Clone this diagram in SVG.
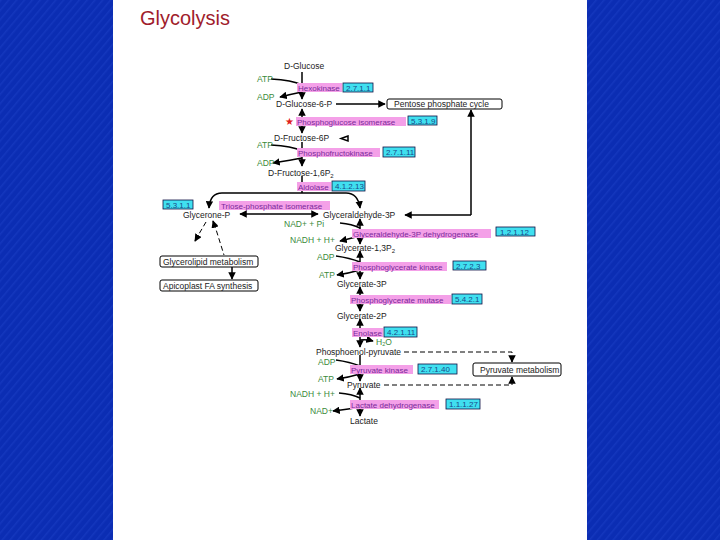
<svg xmlns="http://www.w3.org/2000/svg" width="720" height="540" viewBox="0 0 720 540">
<defs>
<pattern id="hatch" width="6" height="6" patternUnits="userSpaceOnUse" patternTransform="rotate(40)">
<rect width="6" height="6" fill="#0b2db3"/>
<rect width="1.5" height="6" fill="#1437bd"/>
</pattern>
<marker id="ah" viewBox="0 0 10 10" refX="9" refY="5" markerWidth="5" markerHeight="5" orient="auto-start-reverse">
<path d="M0,0 L10,5 L0,10 z" fill="#000"/>
</marker>
<style>
.t{font-family:"Liberation Sans",Arial,sans-serif;font-size:8.5px;fill:#222}
.g{font-family:"Liberation Sans",Arial,sans-serif;font-size:8.5px;fill:#3a8a3a}
.pt{font-family:"Liberation Sans",Arial,sans-serif;font-size:8px;fill:#7a2a9a}
.ct{font-family:"Liberation Sans",Arial,sans-serif;font-size:8px;fill:#1a4a8a}
.pk{fill:#f4a0e8}
.cy{fill:#40e0f0;stroke:#114;stroke-width:0.8}
.map{fill:#fff;stroke:#000;stroke-width:1}
.c{fill:none;stroke:#000;stroke-width:1.5}
.d{fill:none;stroke:#000;stroke-width:1;stroke-dasharray:5,3}
</style>
</defs>
<rect width="720" height="540" fill="url(#hatch)"/>
<rect x="113" y="0" width="474" height="540" fill="#fff"/>
<text x="140" y="25" font-family="Liberation Sans,Arial,sans-serif" font-size="20" fill="#a01c2c">Glycolysis</text>

<g id="connectors">
<path class="c" d="M302,72 V99" marker-end="url(#ah)"/>
<path class="c" d="M271,79 Q292,80 302,85"/>
<path class="c" d="M302,92 Q292,94 280,97" marker-end="url(#ah)"/>
<path class="c" d="M336,104 H385" marker-end="url(#ah)"/>
<path class="c" d="M302,109 V133" marker-start="url(#ah)" marker-end="url(#ah)"/>
<path class="c" d="M348,136 L341,138.5 L348,141 z" fill="#000"/>
<path class="c" d="M302,142 V166" marker-end="url(#ah)"/>
<path class="c" d="M271,145 Q292,146 302,151"/>
<path class="c" d="M302,158 Q292,160 273,163" marker-end="url(#ah)"/>
<path class="c" d="M302,176 V193"/>
<path class="c" d="M302,193 H222 Q210,193 209,208" marker-end="url(#ah)"/>
<path class="c" d="M302,193 H346 Q358,193 360,208" marker-end="url(#ah)"/>
<path class="c" d="M240,214 H318" marker-start="url(#ah)" marker-end="url(#ah)"/>
<path class="c" d="M471,215 V110" marker-end="url(#ah)"/>
<path class="c" d="M471,215 H405" marker-end="url(#ah)"/>
<path class="c" d="M360,219 V244" marker-start="url(#ah)" marker-end="url(#ah)"/>
<path class="c" d="M340,223 Q352,224 360,228"/>
<path class="c" d="M360,236 Q352,238 340,241" marker-end="url(#ah)"/>
<path class="c" d="M360,251 V279" marker-start="url(#ah)" marker-end="url(#ah)"/>
<path class="c" d="M336,256 Q350,258 360,262"/>
<path class="c" d="M360,270 Q350,273 337,275" marker-end="url(#ah)"/>
<path class="c" d="M360,287 V311" marker-start="url(#ah)" marker-end="url(#ah)"/>
<path class="c" d="M360,319 V347" marker-start="url(#ah)" marker-end="url(#ah)"/>
<path class="c" d="M360,340 Q366,339 373,341" marker-end="url(#ah)"/>
<path class="c" d="M360,355 V381" marker-end="url(#ah)"/>
<path class="c" d="M336,360 Q350,362 360,366"/>
<path class="c" d="M360,374 Q350,377 337,379" marker-end="url(#ah)"/>
<path class="c" d="M360,388 V416" marker-start="url(#ah)" marker-end="url(#ah)"/>
<path class="c" d="M339,393 Q352,394 360,398"/>
<path class="c" d="M360,407 Q350,409 333,411" marker-end="url(#ah)"/>
<path class="d" d="M404,352 H512 V361"/>
<path class="c" d="M512,356 V362" marker-end="url(#ah)"/>
<path class="d" d="M384,385 H512 V378"/>
<path class="c" d="M512,382 V377" marker-end="url(#ah)"/>
<path class="d" d="M206,222 L196,239"/>
<path class="c" d="M198,236 L195,241" marker-end="url(#ah)"/>
<path class="d" d="M214,223 L224,255"/>
<path class="c" d="M215,227 L213,221" marker-end="url(#ah)"/>
<path class="c" d="M232,267 V279" marker-end="url(#ah)"/>
</g>

<g id="glucose"><text class="t" x="284" y="69">D-Glucose</text></g>
<g id="atp1"><text class="g" x="257" y="82">ATP</text></g>
<g id="hexokinase"><rect class="pk" x="297" y="83" width="45" height="9"/><text class="pt" x="298" y="90.5">Hexokinase</text><rect class="cy" x="343" y="83" width="30" height="9"/><text class="ct" x="346" y="90.5">2.7.1.1</text></g>
<g id="adp1"><text class="g" x="257" y="100">ADP</text></g>
<g id="g6p"><text class="t" x="276" y="107">D-Glucose-6-P</text></g>
<g id="ppc"><rect class="map" x="387" y="99" width="115" height="10" rx="2"/><text class="t" x="394" y="106.5">Pentose phosphate cycle</text></g>
<g id="pgi"><text x="285" y="125" font-family="DejaVu Sans,sans-serif" font-size="10" fill="#e02020">★</text><rect class="pk" x="296" y="117" width="110" height="9"/><text class="pt" x="297" y="124.5">Phosphoglucose isomerase</text><rect class="cy" x="408" y="116" width="29" height="9"/><text class="ct" x="411" y="123.5">5.3.1.9</text></g>
<g id="f6p"><text class="t" x="274" y="141">D-Fructose-6P</text></g>
<g id="atp2"><text class="g" x="257" y="148">ATP</text></g>
<g id="pfk"><rect class="pk" x="297" y="148" width="83" height="9"/><text class="pt" x="298" y="155.5">Phosphofructokinase</text><rect class="cy" x="383" y="147" width="32" height="10"/><text class="ct" x="386" y="155">2.7.1.11</text></g>
<g id="adp2"><text class="g" x="257" y="166">ADP</text></g>
<g id="f16p2"><text class="t" x="268" y="176">D-Fructose-1,6P<tspan font-size="6" dy="2">2</tspan></text></g>
<g id="aldolase"><rect class="pk" x="297" y="182" width="34" height="9"/><text class="pt" x="298" y="189.5">Aldolase</text><rect class="cy" x="332" y="181" width="33" height="10"/><text class="ct" x="335" y="189">4.1.2.13</text></g>
<g id="tpi"><rect class="cy" x="163" y="200" width="30" height="9"/><text class="ct" x="166" y="207.5">5.3.1.1</text><rect class="pk" x="219" y="201" width="111" height="9"/><text class="pt" x="221" y="208.5">Triose-phosphate isomerase</text></g>
<g id="glyceroneP"><text class="t" x="183" y="218">Glycerone-P</text></g>
<g id="ga3p"><text class="t" x="323" y="218">Glyceraldehyde-3P</text></g>
<g id="nadpi"><text class="g" x="284" y="227">NAD+ + Pi</text></g>
<g id="gapdh"><rect class="pk" x="352" y="229" width="139" height="9"/><text class="pt" x="353" y="236.5">Glyceraldehyde-3P dehydrogenase</text><rect class="cy" x="496" y="227" width="39" height="9"/><text class="ct" x="500" y="234.5">1.2.1.12</text></g>
<g id="nadh1"><text class="g" x="290" y="243">NADH + H+</text></g>
<g id="g13p2"><text class="t" x="335" y="251">Glycerate-1,3P<tspan font-size="6" dy="2">2</tspan></text></g>
<g id="adp3"><text class="g" x="317" y="260">ADP</text></g>
<g id="pgk"><rect class="pk" x="352" y="262" width="95" height="9"/><text class="pt" x="353" y="269.5">Phosphoglycerate kinase</text><rect class="cy" x="453" y="261" width="33" height="9"/><text class="ct" x="456" y="268.5">2.7.2.3</text></g>
<g id="atp3"><text class="g" x="319" y="278">ATP</text></g>
<g id="g3p"><text class="t" x="337" y="287">Glycerate-3P</text></g>
<g id="pgm"><rect class="pk" x="350" y="295" width="101" height="9"/><text class="pt" x="351" y="302.5">Phosphoglycerate mutase</text><rect class="cy" x="452" y="294" width="30" height="10"/><text class="ct" x="455" y="302">5.4.2.1</text></g>
<g id="g2p"><text class="t" x="337" y="319">Glycerate-2P</text></g>
<g id="enolase"><rect class="pk" x="352" y="328" width="31" height="9"/><text class="pt" x="353" y="335.5">Enolase</text><rect class="cy" x="384" y="327" width="33" height="10"/><text class="ct" x="387" y="335">4.2.1.11</text></g>
<g id="h2o"><text class="g" x="376" y="344.5" font-size="8">H<tspan font-size="5.5" dy="1">2</tspan><tspan dy="-1">O</tspan></text></g>
<g id="pep"><text class="t" x="316" y="355">Phosphoenol-pyruvate</text></g>
<g id="adp4"><text class="g" x="318" y="365">ADP</text></g>
<g id="pk"><rect class="pk" x="350" y="365" width="63" height="9"/><text class="pt" x="351" y="372.5">Pyruvate kinase</text><rect class="cy" x="418" y="364" width="39" height="10"/><text class="ct" x="421" y="372">2.7.1.40</text></g>
<g id="pyrmet"><rect class="map" x="473" y="363" width="88" height="13" rx="2"/><text class="t" x="480" y="372.5">Pyruvate metabolism</text></g>
<g id="atp4"><text class="g" x="318" y="382">ATP</text></g>
<g id="pyruvate"><text class="t" x="347" y="388">Pyruvate</text></g>
<g id="nadh2"><text class="g" x="290" y="397">NADH + H+</text></g>
<g id="ldh"><rect class="pk" x="350" y="400" width="89" height="9"/><text class="pt" x="351" y="407.5">Lactate dehydrogenase</text><rect class="cy" x="446" y="399" width="34" height="10"/><text class="ct" x="449" y="407">1.1.1.27</text></g>
<g id="nad"><text class="g" x="310" y="414">NAD+</text></g>
<g id="lactate"><text class="t" x="350" y="424">Lactate</text></g>
<g id="glycerolipid"><rect class="map" x="160" y="256" width="98" height="11" rx="2"/><text class="t" x="163" y="264.5">Glycerolipid metabolism</text></g>
<g id="apicoplast"><rect class="map" x="160" y="280" width="98" height="11" rx="2"/><text class="t" x="163" y="288.5">Apicoplast FA synthesis</text></g>
</svg>
